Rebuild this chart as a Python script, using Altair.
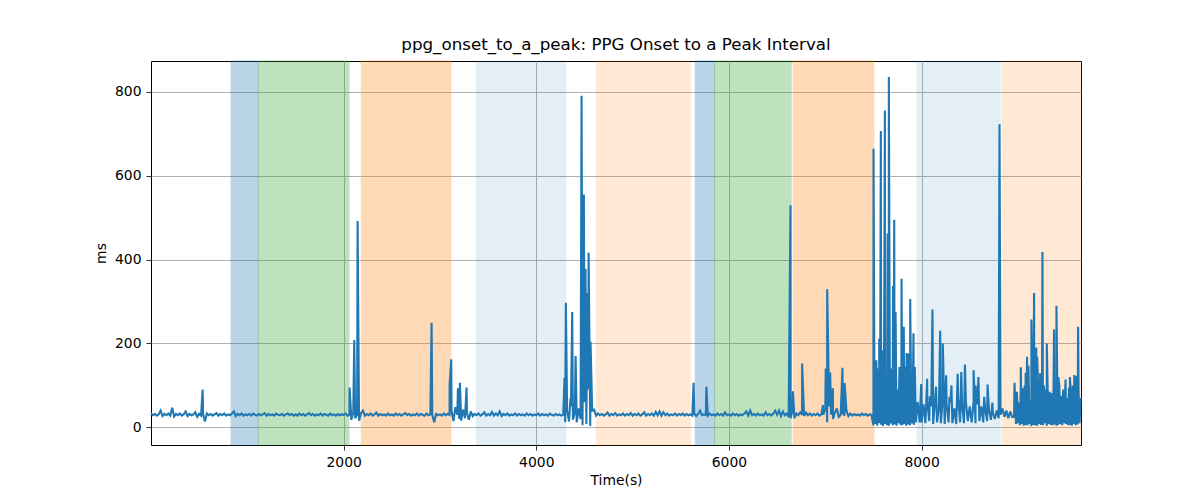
import altair as alt
import pandas as pd

# ---- data: PPG onset-to-a-peak interval (ms) ----
# background beat-to-beat values, one reading every 20 s from t=0
T_START = 0
T_STEP = 20

base_0000 = [33,29,32,28,31,40,27,32,29,33,28,47,26,32,29,33,28,31,38,27,32,29,31,36,25]
base_0500 = [32,28,33,14,33,29,32,28,31,34,28,32,29,33,28,31,29,33,38,27,32,29,33,28,31]
base_1000 = [29,32,28,33,30,28,32,29,31,34,28,32,29,31,28,33,30,29,32,28,31,33,29,32,28]
base_1500 = [31,28,33,29,32,28,31,34,29,32,28,31,29,33,28,32,30,28,33,29,31,28,32,29,31]
base_2000 = [30,33,28,30,18,35,22,30,16,34,40,28,32,29,33,28,31,35,28,32,29,31,28,33,29]
base_2500 = [31,28,33,29,32,28,31,34,29,32,28,31,29,33,28,32,30,28,33,29,31,30,12,32,29]
base_3000 = [31,28,33,29,32,30,40,15,48,30,20,16,42,22,35,18,38,27,32,29,33,28,31,36,28]
base_3500 = [32,29,37,28,33,29,38,27,32,29,33,28,31,29,33,28,32,29,31,28,33,29,32,28,31]
base_4000 = [29,33,28,32,29,31,28,33,30,28,32,29,31,28,30,12,40,14,50,18,35,12,45,20,5]
base_4500 = [60,8,90,3,40,42,28,33,29,32,28,31,35,28,32,29,34,28,31,29,33,28,32,29,34]
base_5000 = [28,32,29,33,28,31,36,28,32,29,33,28,37,29,38,28,36,29,33,28,31,29,33,28,32]
base_5500 = [29,33,28,32,29,31,28,33,27,32,40,29,31,30,28,33,29,31,28,33,29,32,28,36,29]
base_6000 = [31,28,33,29,32,28,31,29,33,38,28,40,29,32,28,33,29,31,28,36,29,32,28,33,40]
base_6500 = [30,40,27,38,29,33,25,22,40,22,33,29,36,30,27,35,29,33,28,32,29,33,28,31,30]
base_7000 = [45,12,50,30,20,35,45,25,30,35,28,40,27,33,28,32,29,31,28,33,29,32,28,31,30]
base_7500 = [5,8,4,10,6,3,8,5,4,9,5,7,4,10,6,5,8,4,7,5,9,6,12,60,12]
base_8000 = [12,55,10,60,15,50,8,65,12,45,10,70,8,55,12,60,10,45,8,70,12,55,10,60,15]
base_8500 = [50,12,60,10,55,15,50,12,45,15,40,18,35,20,40,22,30,45,25,40,22,38,25,25,8]
base_9000 = [10,5,8,4,6,5,8,3,6,5,4,8,6,5,10,4,8,6,5,7,4,6,8,5,10]
base_9500 = [8,5,6,4,8,5,7,10]

# extra readings between the 20 s samples inside the two noisiest stretches
burst1_start = 7510
burst1_v = [120,90,140,110,100,150,95,130,115,140,105,125,90,135,110,100,145,95,120,105,110,80]
burst2_start = 8970
burst2_v = [70,85,60,95,80,100,75,90,65,110,85,70,95,80,60,100,90,75,85,70,
            95,60,80,100,75,90,85,70,95,80,100,75,90,85,70]

# isolated spikes: time (s) and value (ms)
spike_t = [536, 2062, 2110, 2145, 2913, 3100, 3117, 3187, 3207, 3276,
           4293, 4307, 4355, 4373, 4408, 4470, 4494, 4511, 4530, 4543, 4563,
           5633, 5766, 6639, 6664, 6760, 6975, 7005, 7020, 7051, 7079, 7179, 7200,
           7501, 7530, 7560, 7577, 7595, 7619, 7648, 7660, 7703, 7716, 7730,
           7770, 7792, 7815, 7845, 7865, 7882, 7916, 7930,
           7996, 8058, 8085, 8113, 8150, 8193, 8220, 8255, 8290, 8310, 8375,
           8412, 8450, 8540, 8560, 8590, 8650, 8685, 8735, 8809, 8965,
           9030, 9050, 9080, 9095, 9110, 9140, 9168, 9190, 9200, 9230, 9255,
           9300, 9350, 9375, 9400, 9420, 9495, 9540, 9585, 9600, 9625]
spike_v = [90, 95, 208, 492, 249, 100, 162, 93, 106, 95,
           118, 297, 70, 275, 170, 790, 555, 378, 320, 416, 204,
           106, 97, 529, 86, 152, 53, 140, 329, 131, 93, 142, 106,
           664, 160, 212, 706, 184, 755, 462, 835, 337, 495, 275,
           144, 354, 240, 177, 176, 306, 224, 144,
           103, 116, 74, 281, 97, 230, 200, 124, 73, 100, 128,
           132, 150, 136, 100, 120, 73, 102, 59, 722, 106,
           143, 93, 130, 168, 147, 257, 320, 190, 168, 129, 418,
           200, 82, 233, 290, 120, 114, 120, 125, 122, 240]

base_segments = [base_0000, base_0500, base_1000, base_1500, base_2000, base_2500,
                 base_3000, base_3500, base_4000, base_4500, base_5000, base_5500,
                 base_6000, base_6500, base_7000, base_7500, base_8000, base_8500,
                 base_9000, base_9500]
base_v = [v for seg in base_segments for v in seg]
base_t = [T_START + T_STEP * i for i in range(len(base_v))]
burst1_t = [burst1_start + T_STEP * i for i in range(len(burst1_v))]
burst2_t = [burst2_start + T_STEP * i for i in range(len(burst2_v))]
points = sorted(list(zip(base_t, base_v)) + list(zip(burst1_t, burst1_v))
                + list(zip(burst2_t, burst2_v)) + list(zip(spike_t, spike_v)))
df = pd.DataFrame({"t": [p[0] for p in points], "v": [p[1] for p in points],
                   "i": list(range(len(points)))})

# ---- shaded phases ----
band_start = [831, 1112, 2183, 3377, 4622, 5650, 5851, 6667, 7954, 8837]
band_end = [1112, 2055, 3114, 4308, 5598, 5851, 6646, 7505, 8816, 9655]
band_color = ["#1f77b4", "#2ca02c", "#ff7f0e", "#1f77b4", "#ff7f0e",
              "#1f77b4", "#2ca02c", "#ff7f0e", "#1f77b4", "#ff7f0e"]
band_alpha = [0.3, 0.3, 0.3, 0.12, 0.17, 0.3, 0.3, 0.3, 0.12, 0.17]
bands_df = pd.DataFrame({"start": band_start, "end": band_end,
                         "color": band_color, "alpha": band_alpha})

x_domain = [0, 9655]
y_domain = [-42, 873]
x_ticks = [2000, 4000, 6000, 8000]
y_ticks = [0, 200, 400, 600, 800]

FONT = "DejaVu Sans"
xscale = alt.Scale(domain=x_domain, nice=False, zero=False)
yscale = alt.Scale(domain=y_domain, nice=False, zero=False)
xaxis = alt.Axis(title="Time(s)", values=x_ticks, format="d", titlePadding=5)
yaxis = alt.Axis(title="ms", values=y_ticks, format="d", titlePadding=6)

bands = alt.Chart(bands_df).mark_rect(strokeWidth=1).encode(
    x=alt.X("start:Q", scale=xscale, axis=xaxis),
    x2="end:Q",
    color=alt.Color("color:N", scale=None),
    stroke=alt.Stroke("color:N", scale=None),
    opacity=alt.Opacity("alpha:Q", scale=None),
)

line = alt.Chart(df).mark_line(color="#1f77b4", strokeWidth=2.1,
                               strokeJoin="miter", strokeMiterLimit=3).encode(
    x=alt.X("t:Q", scale=xscale, axis=xaxis),
    y=alt.Y("v:Q", scale=yscale, axis=yaxis),
    order=alt.Order("i:Q"),
)

chart = alt.layer(bands, line).properties(
    width=930,
    height=384,
    autosize="none",
    padding={"left": 143, "top": 53, "right": 12, "bottom": 47},
    title=alt.TitleParams(
        "ppg_onset_to_a_peak: PPG Onset to a Peak Interval",
        font=FONT, fontSize=16.7, fontWeight="normal", color="black",
        anchor="middle", offset=7,
    ),
).configure_view(
    stroke="black", strokeWidth=1
).configure_axis(
    domain=False,
    grid=True,
    gridColor="#b0b0b0",
    gridWidth=1,
    tickColor="black",
    tickSize=5,
    tickWidth=0.8,
    labelPadding=5,
    labelFont=FONT,
    labelFontSize=13.9,
    labelColor="black",
    titleFont=FONT,
    titleFontSize=13.9,
    titleFontWeight="normal",
    titleColor="black",
)

chart.save("out.html", embed_options={"renderer": "svg", "actions": False})
